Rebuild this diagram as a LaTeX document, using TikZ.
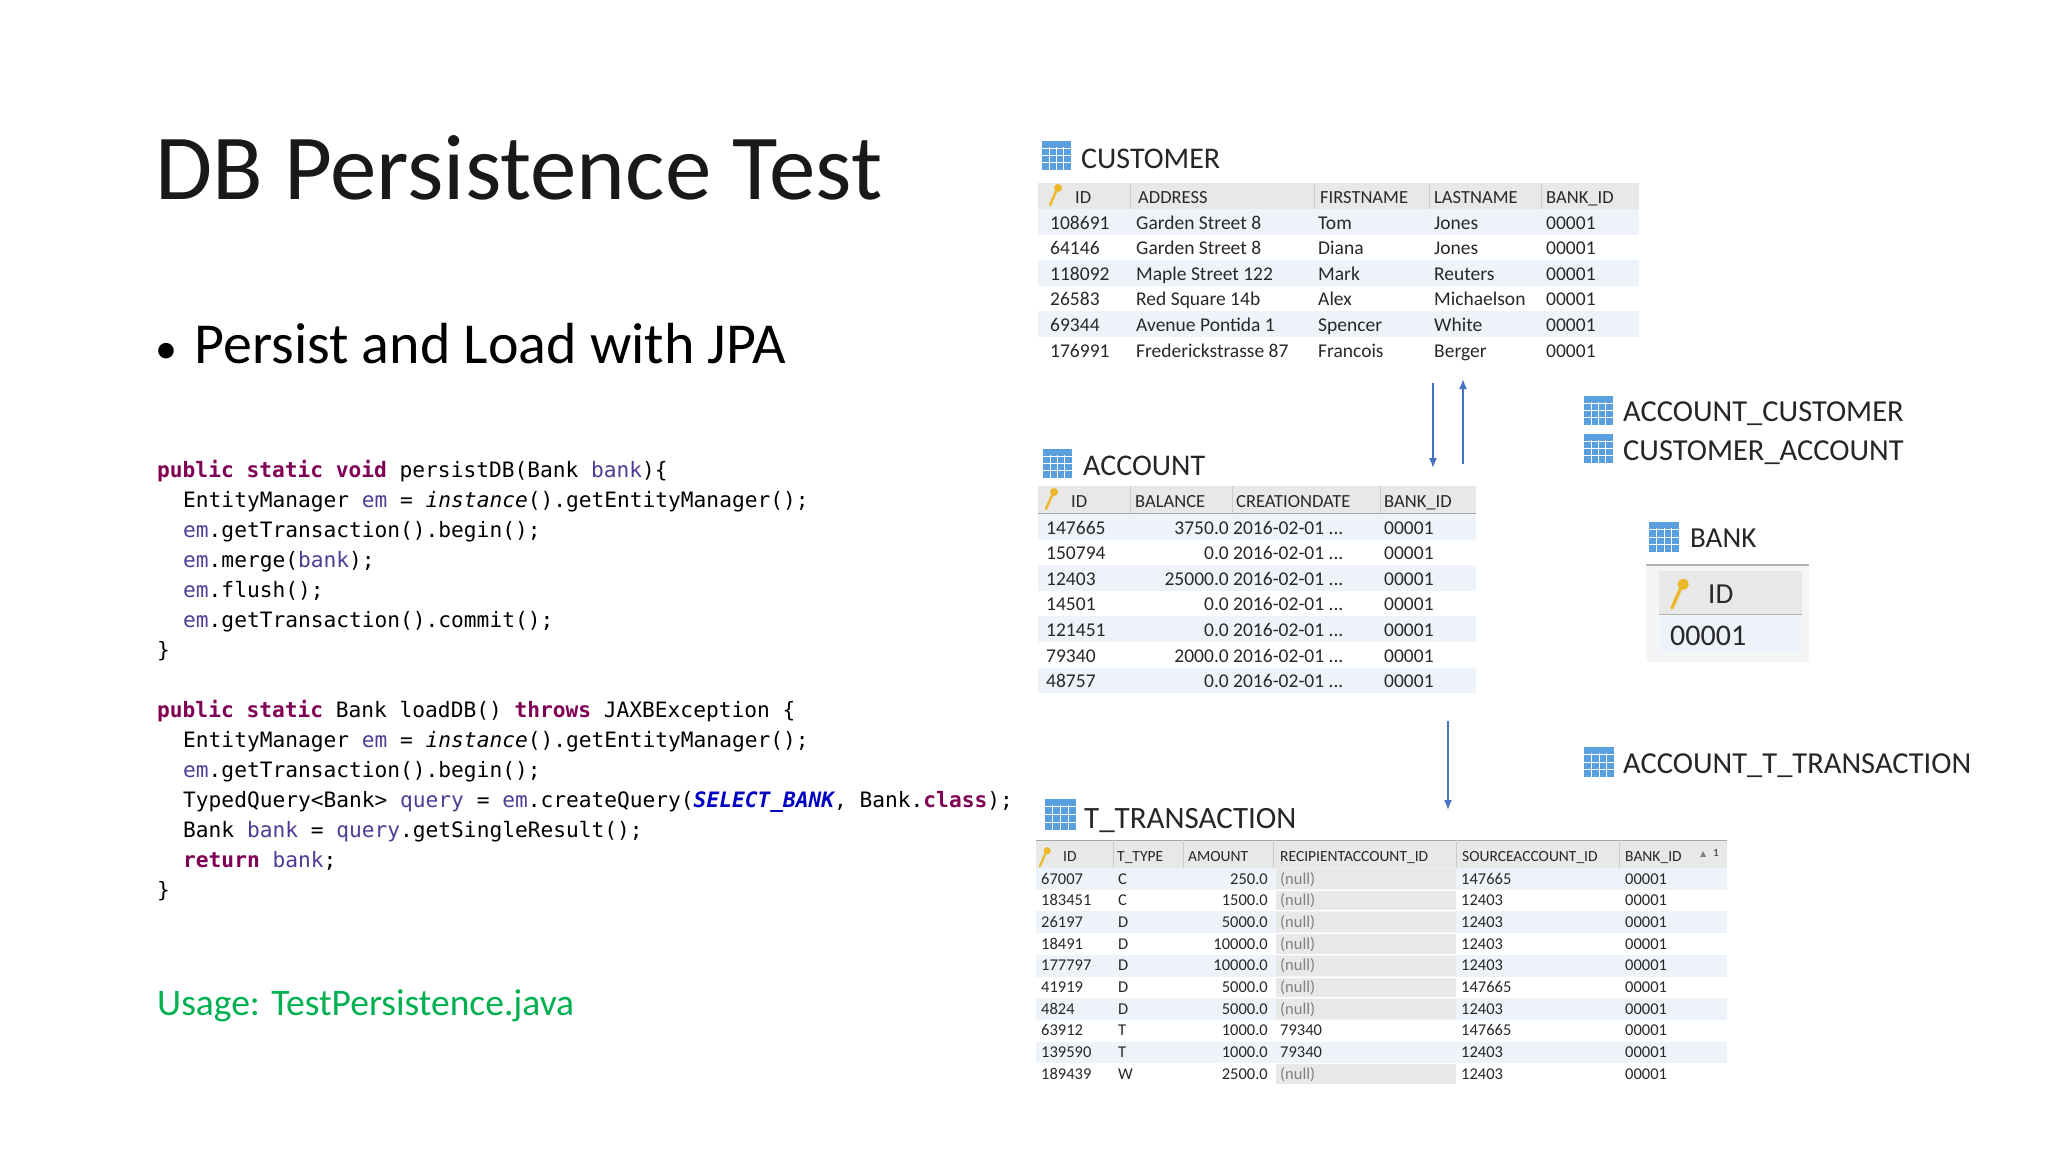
\documentclass[tikz,border=0pt]{standalone}
\usepackage{fontspec}
\usetikzlibrary{arrows.meta}
\setmainfont{Carlito}
\newfontfamily\codef{DejaVu Sans Mono}
\newfontfamily\tbf{Carlito}
\newfontfamily\symf{DejaVu Sans}
\definecolor{kwc}{RGB}{127,0,85}
\definecolor{fldc}{RGB}{80,60,150}
\definecolor{cstc}{RGB}{0,0,192}
\definecolor{greenc}{RGB}{0,176,80}
\definecolor{arrc}{RGB}{68,114,196}
\definecolor{iconb}{RGB}{90,160,225}
\definecolor{band}{RGB}{238,243,250}
\definecolor{hdr}{RGB}{232,232,232}
\definecolor{nullc}{RGB}{232,232,232}
\definecolor{keyc}{RGB}{235,185,40}
\definecolor{txt}{RGB}{40,40,40}
\newcommand\kw[1]{\textcolor{kwc}{\bfseries #1}}
\newcommand\fld[1]{\textcolor{fldc}{#1}}
\newcommand\tbicon[3]{%
  \fill[iconb] (#1,#2) rectangle ++(#3,#3);
  \foreach \k in {0.25,0.5,0.75}{\draw[white,line width=1pt] (#1,#2)++(0,#3*\k) -- ++(#3,0);
    \draw[white,line width=0.8pt] (#1,#2)++(#3*\k,#3*0.2) -- ++(0,#3*0.8);}}
\newcommand\keyicon[3]{%
  \draw[keyc,line width=#3*0.12pt,line cap=round] (#1,#2) -- ++(#3*0.35,-#3*0.8);
  \fill[keyc] (#1,#2)++(#3*0.4,-#3*0.85) circle (#3*0.2);}
\begin{document}
\begin{tikzpicture}[x=1pt,y=-1pt,
  cd/.style={anchor=base west,inner sep=0pt,font=\codef\fontsize{21.2}{25}\selectfont},
  td/.style={anchor=base west,inner sep=0pt,text=txt},
  tdr/.style={anchor=base east,inner sep=0pt,text=txt},
  ttl/.style={anchor=base west,inner sep=0pt,text=black!85}]
\useasboundingbox[fill=white] (0,0) rectangle (2048,1152);
% title
\node[anchor=base west,inner sep=0pt,font=\fontsize{93}{100}\selectfont,text=black!90] (title) at (155,199) {DB Persistence Test};
\node[anchor=base west,inner sep=0pt,font=\fontsize{58}{60}\selectfont] (bullet) at (155,363) {{\fontsize{44}{48}\selectfont•}\hspace{0.3em}Persist and Load with JPA};
% code
\node[cd] (c1) at (157,477) {\kw{public static void} persistDB(Bank \fld{bank})\{};
\node[cd] (c2) at (183,507) {EntityManager \fld{em} = \textit{instance}().getEntityManager();};
\node[cd] (c3) at (183,537) {\fld{em}.getTransaction().begin();};
\node[cd] (c4) at (183,567) {\fld{em}.merge(\fld{bank});};
\node[cd] (c5) at (183,597) {\fld{em}.flush();};
\node[cd] (c6) at (183,627) {\fld{em}.getTransaction().commit();};
\node[cd] (c7) at (157,657) {\}};
\node[cd] (c9) at (157,717) {\kw{public static} Bank loadDB() \kw{throws} JAXBException \{};
\node[cd] (c10) at (183,747) {EntityManager \fld{em} = \textit{instance}().getEntityManager();};
\node[cd] (c11) at (183,777) {\fld{em}.getTransaction().begin();};
\node[cd] (c12) at (183,807) {TypedQuery<Bank> \fld{query} = \fld{em}.createQuery(\textcolor{cstc}{\bfseries\itshape SELECT\_BANK}, Bank.\kw{class});};
\node[cd] (c13) at (183,837) {Bank \fld{bank} = \fld{query}.getSingleResult();};
\node[cd] (c14) at (183,867) {\kw{return} \fld{bank};};
\node[cd] (c15) at (157,897) {\}};
\node[anchor=base west,inner sep=0pt,font=\fontsize{37.5}{40}\selectfont,text=greenc] (usage) at (157,1015) {Usage: TestPersistence.java};

% ===== CUSTOMER
\tbicon{1042}{141}{29}
\node[ttl,font=\tbf\fontsize{30}{32}\selectfont] (custT) at (1081,168) {CUSTOMER};
\fill[hdr] (1038,183) rectangle (1639,209);
\draw[gray!70] (1038,209) -- (1639,209);
\foreach \x in {1130,1314,1429,1541}{\draw[gray!40] (\x,183) -- (\x,209);}
\keyicon{1050}{205}{20}
\begin{scope}[font=\tbf\fontsize{18.5}{20}\selectfont]
\node[td] at (1075,203) {ID};
\node[td] at (1138,203) {ADDRESS};
\node[td] at (1320,203) {FIRSTNAME};
\node[td] at (1434,203) {LASTNAME};
\node[td] at (1546,203) {BANK\_ID};
\end{scope}
\foreach \i in {0,2,4}{\fill[band] (1038,{209+25.6*\i}) rectangle (1639,{209+25.6*(\i+1)});}
\begin{scope}[font=\tbf\fontsize{19.5}{21}\selectfont]
\foreach \i/\a/\b/\c/\d in {0/108691/Garden Street 8/Tom/Jones,1/64146/Garden Street 8/Diana/Jones,2/118092/Maple Street 122/Mark/Reuters,3/26583/Red Square 14b/Alex/Michaelson,4/69344/Avenue Pontida 1/Spencer/White,5/176991/Frederickstrasse 87/Francois/Berger}{
  \node[td] at (1050,{229+25.6*\i}) {\a};
  \node[td] at (1136,{229+25.6*\i}) {\b};
  \node[td] at (1318,{229+25.6*\i}) {\c};
  \node[td] at (1434,{229+25.6*\i}) {\d};
  \node[td] at (1546,{229+25.6*\i}) {00001};}
\end{scope}

% arrows
\coordinate (a1s) at (1433,383); \coordinate (a1e) at (1433,468);
\coordinate (a2s) at (1463,464); \coordinate (a2e) at (1463,379);
\coordinate (a3s) at (1448,721); \coordinate (a3e) at (1448,810);
\draw[arrc,line width=1.6pt,-{Latex[length=10pt,width=8pt]}] (a1s) -- (a1e);
\draw[arrc,line width=1.6pt,-{Latex[length=10pt,width=8pt]}] (a2s) -- (a2e);
\draw[arrc,line width=1.6pt,-{Latex[length=10pt,width=8pt]}] (a3s) -- (a3e);

% join tables
\tbicon{1584}{396}{29}
\node[ttl,font=\tbf\fontsize{30.5}{33}\selectfont] (ac) at (1623,421) {ACCOUNT\_CUSTOMER};
\tbicon{1584}{434}{29}
\node[ttl,font=\tbf\fontsize{30.5}{33}\selectfont] (ca) at (1623,460) {CUSTOMER\_ACCOUNT};
\tbicon{1584}{747}{30}
\node[ttl,font=\tbf\fontsize{30.5}{33}\selectfont] (atr) at (1623,773) {ACCOUNT\_T\_TRANSACTION};

% ===== ACCOUNT
\tbicon{1043}{449}{29}
\node[ttl,font=\tbf\fontsize{30}{32}\selectfont] (accT) at (1083,475) {ACCOUNT};
\fill[hdr] (1038,486) rectangle (1476,513);
\draw[gray!70] (1038,513) -- (1476,513);
\foreach \x in {1130,1232,1380}{\draw[gray!40] (\x,486) -- (\x,513);}
\keyicon{1046}{509}{20}
\begin{scope}[font=\tbf\fontsize{18.5}{20}\selectfont]
\node[td] at (1071,507) {ID};
\node[td] at (1135,507) {BALANCE};
\node[td] at (1236,507) {CREATIONDATE};
\node[td] at (1384,507) {BANK\_ID};
\end{scope}
\foreach \i in {0,2,4,6}{\fill[band] (1038,{514+25.6*\i}) rectangle (1476,{514+25.6*(\i+1)});}
\begin{scope}[font=\tbf\fontsize{19.5}{21}\selectfont]
\foreach \i/\a/\b in {0/147665/3750.0,1/150794/0.0,2/12403/25000.0,3/14501/0.0,4/121451/0.0,5/79340/2000.0,6/48757/0.0}{
  \node[td] at (1046,{534+25.6*\i}) {\a};
  \node[tdr] at (1229,{534+25.6*\i}) {\b};
  \node[td] at (1233,{534+25.6*\i}) {2016-02-01 ...};
  \node[td] at (1384,{534+25.6*\i}) {00001};}
\end{scope}

% ===== BANK
\tbicon{1649}{522}{30}
\node[ttl,font=\tbf\fontsize{29}{31}\selectfont] (bankT) at (1690,547) {BANK};
\fill[gray!8] (1646,566) rectangle (1809,662);
\draw[gray!60,line width=2pt] (1646,565) -- (1809,565);
\fill[hdr] (1659,571) rectangle (1802,614);
\draw[gray!60] (1659,614) -- (1802,614);
\fill[band] (1659,616) rectangle (1800,653);
\keyicon{1672}{608}{28}
\node[td,font=\tbf\fontsize{29}{31}\selectfont] (bid) at (1708,603) {ID};
\node[td,font=\tbf\fontsize{30}{32}\selectfont] (bval) at (1670,645) {00001};

% ===== T_TRANSACTION
\tbicon{1045}{799}{31}
\node[ttl,font=\tbf\fontsize{31}{33}\selectfont] (trT) at (1084,828) {T\_TRANSACTION};
\fill[hdr] (1036,840) rectangle (1727,868);
\draw[gray!70] (1036,840) -- (1727,840);
\draw[gray!70] (1036,868) -- (1727,868);
\foreach \x in {1113,1183,1273,1456,1619}{\draw[gray!40] (\x,840) -- (\x,868);}
\keyicon{1040}{866}{18}
\begin{scope}[font=\tbf\fontsize{15.5}{17}\selectfont]
\node[td] at (1063,861) {ID};
\node[td] at (1117,861) {T\_TYPE};
\node[td] at (1188,861) {AMOUNT};
\node[td] at (1280,861) {RECIPIENTACCOUNT\_ID};
\node[td] at (1462,861) {SOURCEACCOUNT\_ID};
\node[td] at (1625,861) {BANK\_ID};
\node[td,text=gray] at (1700,856) {\symf\fontsize{8}{9}\selectfont ▲};
\node[td] at (1713,856) {\fontsize{11}{12}\selectfont 1};
\end{scope}
\foreach \i in {0,2,4,6,8}{\fill[band] (1036,{868+21.7*\i}) rectangle (1727,{868+21.7*(\i+1)});}
\foreach \i in {0,1,2,3,4,5,6,9}{\fill[nullc] (1276,{869+21.7*\i}) rectangle (1456,{867+21.7*(\i+1)});}
\begin{scope}[font=\tbf\fontsize{16.5}{18}\selectfont]
\foreach \i/\a/\b/\c/\d/\e in {0/67007/C/250.0/\textcolor{gray}{(null)}/147665,1/183451/C/1500.0/\textcolor{gray}{(null)}/12403,2/26197/D/5000.0/\textcolor{gray}{(null)}/12403,3/18491/D/10000.0/\textcolor{gray}{(null)}/12403,4/177797/D/10000.0/\textcolor{gray}{(null)}/12403,5/41919/D/5000.0/\textcolor{gray}{(null)}/147665,6/4824/D/5000.0/\textcolor{gray}{(null)}/12403,7/63912/T/1000.0/79340/147665,8/139590/T/1000.0/79340/12403,9/189439/W/2500.0/\textcolor{gray}{(null)}/12403}{
  \node[td] at (1041,{884+21.7*\i}) {\a};
  \node[td] at (1118,{884+21.7*\i}) {\b};
  \node[tdr] at (1268,{884+21.7*\i}) {\c};
  \node[td] at (1280,{884+21.7*\i}) {\d};
  \node[td] at (1461,{884+21.7*\i}) {\e};
  \node[td] at (1625,{884+21.7*\i}) {00001};}
\end{scope}
\end{tikzpicture}
\end{document}
